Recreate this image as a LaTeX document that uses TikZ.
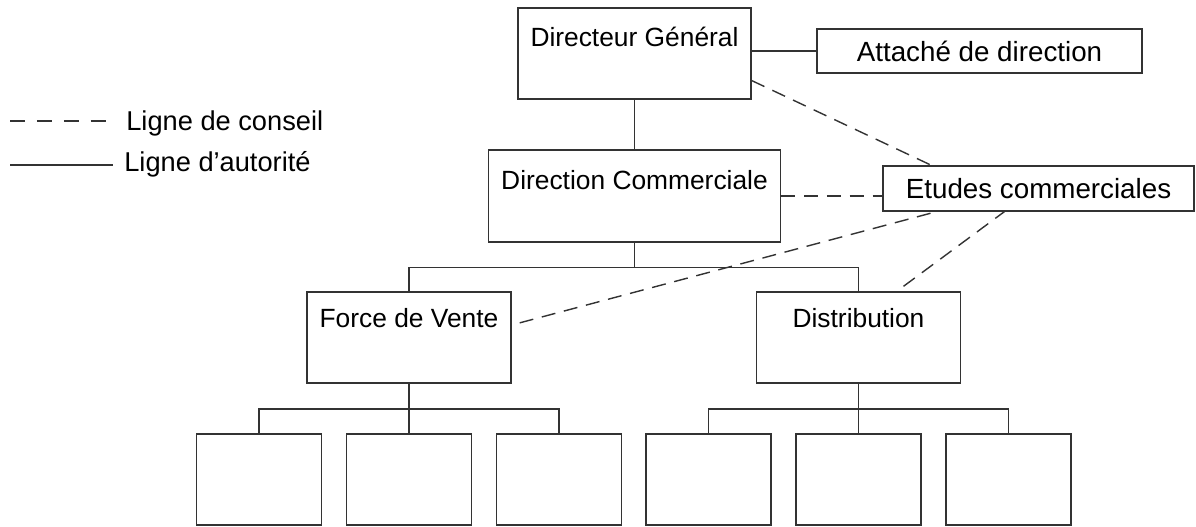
\documentclass[tikz,border=0pt]{standalone}
\usepackage{fontspec}
\setmainfont{Liberation Sans}
\usetikzlibrary{calc}

\begin{document}
\begin{tikzpicture}[x=0.02cm, y=-0.02cm,
    trait/.style={draw=black!80, line width=0.8pt},
    conseil/.style={trait, dash pattern=on 8pt off 5pt},
    service/.style={trait, inner sep=0pt, font=\fontsize{15}{18}\selectfont,
        text height=0.71cm, text depth=1.11cm},
    bloc/.style={trait, inner sep=0pt, font=\fontsize{15.8}{19}\selectfont,
        text height=11.4pt, text depth=0pt},
    vide/.style={trait, minimum width=2.5cm, minimum height=1.82cm},
    legende/.style={anchor=west, inner sep=0pt, font=\fontsize{15.5}{18}\selectfont,
        text height=11.1pt, text depth=0pt}]
    \useasboundingbox (0,0) rectangle (1196,527);

    % direction
    \node[service, minimum width=4.66cm, text height=0.77cm, text depth=1.05cm] (dg) at (634.5,53.5) {Directeur Général};
    \node[bloc, minimum width=6.5cm, minimum height=0.88cm] (att) at (979.5,51) {Attaché de direction};
    \node[service, minimum width=5.84cm, text height=0.79cm, text depth=1.05cm] (dc) at (634.5,196) {Direction Commerciale};
    \node[bloc, minimum width=6.22cm, minimum height=0.9cm] (etu) at (1038.5,188.5) {Etudes commerciales};
    \node[service, minimum width=4.08cm] (fdv) at (409,337.5) {Force de Vente};
    \node[service, minimum width=4.08cm] (dist) at (858.5,337.5) {Distribution};
    \foreach \i/\x in {1/259,2/409,3/559,4/708.5,5/858.5,6/1008.5}
        \node[vide] (b\i) at (\x,479.5) {};

    % ligne d'autorite
    \draw[trait] (dg) -- (dc);
    \draw[trait] (att.west) -- (att.west -| dg.east);
    \draw[trait] (dc.south) -- ++(0,25) -| (fdv.north);
    \draw[trait] (dc.south) -- ++(0,25) -| (dist.north);
    \foreach \i in {1,2,3}
        \draw[trait] (fdv.south) -- ++(0,25.5) -| (b\i.north);
    \foreach \i in {4,5,6}
        \draw[trait] (dist.south) -- ++(0,25.5) -| (b\i.north);

    % ligne de conseil
    \draw[conseil] (dg.-13) -- ($(etu.north west)+(49,0)$);
    \draw[conseil] (dc.east) -- (dc.east -| etu.west);
    \draw[conseil] ($(fdv.mid east)+(8,0)$) -- ($(etu.south west)+(54,0)$);
    \draw[conseil] ($(dist.north)+(45,-5)$) -- ($(etu.south west)+(122,0)$);

    % legende
    \node[legende] (lconseil) at (126,121) {Ligne de conseil};
    \node[legende] (lautorite) at (124,162) {Ligne d'autorité};
    \coordinate (dconseil) at (10,121);
    \coordinate (dautorite) at (10,165);
    \draw[conseil, dash pattern=on 8.5pt off 6.8pt] (dconseil) -- ($(lconseil.west)+(-18,0)$);
    \draw[trait] (dautorite) -- ($(lautorite.west)+(-11,3)$);
\end{tikzpicture}
\end{document}
